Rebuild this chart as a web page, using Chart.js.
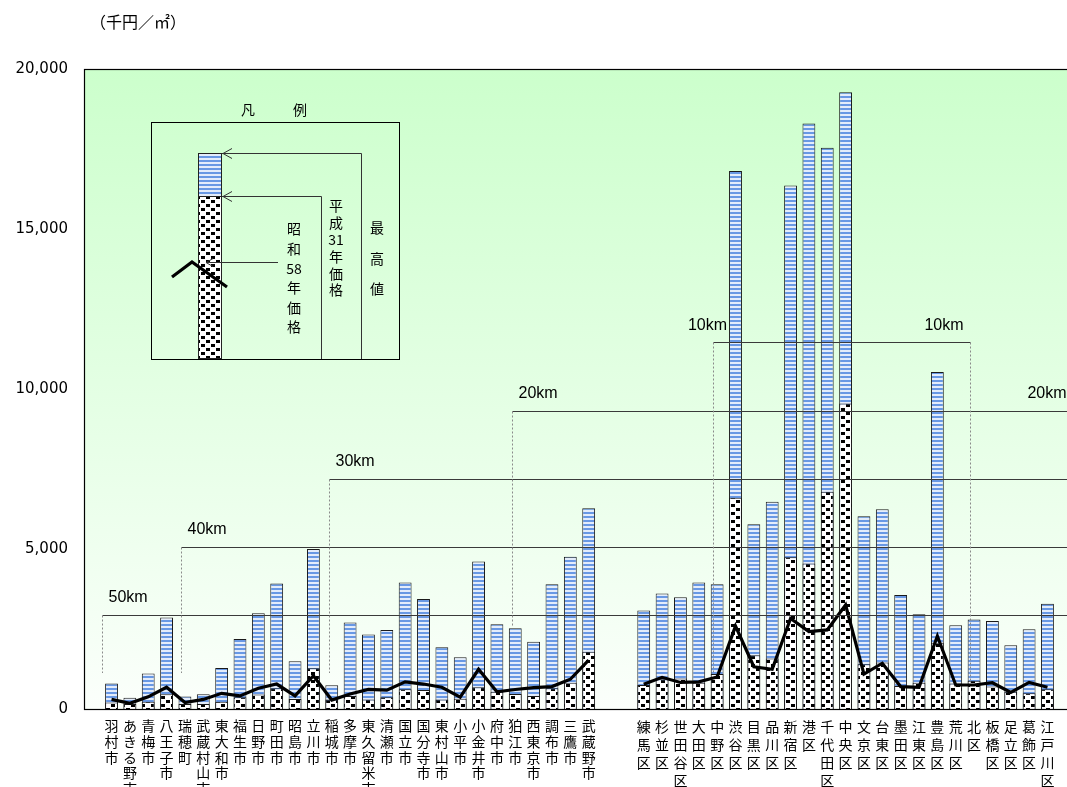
<!DOCTYPE html>
<html><head><meta charset="utf-8">
<script src="https://cdn.jsdelivr.net/npm/chart.js@4/dist/chart.umd.min.js"></script>
<style>html,body{margin:0;padding:0;overflow:hidden;background:#fff;width:1067px;height:787px}canvas{display:block}</style>
</head><body><canvas id="c" width="1075" height="787"></canvas>
<script>
// ---- data ----
const cityNames = ['羽村市','あきる野市','青梅市','八王子市','瑞穂町','武蔵村山市','東大和市','福生市','日野市','町田市','昭島市','立川市','稲城市','多摩市','東久留米市','清瀬市','国立市','国分寺市','東村山市','小平市','小金井市','府中市','狛江市','西東京市','調布市','三鷹市','武蔵野市'];
const cityMax = [800,350,1110,2860,390,460,1280,2190,2990,3920,1490,5000,740,2700,2330,2470,3950,3440,1930,1620,4610,2650,2520,2100,3900,4760,6270];
const cityH31 = [200,160,230,460,160,160,230,370,450,650,310,1270,300,410,300,370,620,590,300,320,680,540,470,410,650,820,1790];
const cityS58 = [300,180,380,680,200,300,490,410,650,780,410,1040,280,470,610,590,850,780,680,370,1240,540,610,670,700,930,1530];
const wardNames = ['練馬区','杉並区','世田谷区','大田区','中野区','渋谷区','目黒区','品川区','新宿区','港区','千代田区','中央区','文京区','台東区','墨田区','江東区','豊島区','荒川区','北区','板橋区','足立区','葛飾区','江戸川区'];
const wardMax = [3080,3610,3490,3950,3900,16810,5770,6480,16360,18300,17540,19270,6020,6240,3560,2960,10530,2620,2800,2750,1990,2490,3290];
const wardH31 = [750,930,950,820,1090,6600,1680,1580,4740,4550,6790,9550,1400,1450,720,820,2070,800,880,700,540,490,620];
const wardS58 = [770,990,830,850,1000,2590,1320,1240,2830,2420,2470,3250,1090,1430,700,680,2280,750,750,820,520,830,680];
const yMin = 0, yMax = 20000, yStep = 5000;
const unitLabel = '（千円／㎡）';
const seriesNames = ['昭和58年価格','平成31年価格','最高値'];
const legendTitle = ['凡','例'];
// distance rings (value level, west/east category index of the corner, foot value of the dotted drop line)
const kmNames = ['50km','40km','30km','20km','10km'];
const kmLevels = [2940,5070,7190,9320,11460];
const kmWestIdx = [0.48,4.8,12.87,22.8,33.8];
const kmWestFoot = [1125,1125,1125,2570,1125];
const kmEastIdx = [null,null,null,53.4,47.77];
const kmEastFoot = [null,null,null,1125,810];

// ---- build category table ----
const labels = ['', ...cityNames, '', '', ...wardNames, ''];
const pad = (a, b) => [null, ...a, null, null, ...b, null];
const maxData = pad(cityMax, wardMax);
const h31Data = pad(cityH31, wardH31);
const s58Data = pad(cityS58, wardS58);
const nCity = cityNames.length + 1;

// ---- patterns ----
function makePattern(w, h, draw) {
  const c = document.createElement('canvas'); c.width = w; c.height = h;
  const x = c.getContext('2d'); draw(x);
  return document.getElementById('c').getContext('2d').createPattern(c, 'repeat');
}
const stripe = makePattern(4, 4, x => { x.fillStyle = '#e3ecfb'; x.fillRect(0,0,4,4); x.fillStyle = '#6898e4'; x.fillRect(0,0,4,2); });
const dots = makePattern(10, 8, x => { x.fillStyle = '#ffffff'; x.fillRect(0,0,10,8); x.fillStyle = '#000'; x.fillRect(1,0,4,3); x.fillRect(6,4,4,3); });

const CJK = '"Noto Sans CJK JP", "Noto Sans CJK SC", sans-serif';

function vText(ctx, parts, x, y0, step) {
  parts.forEach((p, i) => ctx.fillText(p, x, y0 + i * step));
}

const decor = {
  id: 'decor',
  beforeDraw(chart) {
    const { ctx, chartArea: a } = chart;
    ctx.save();
    const g = ctx.createLinearGradient(0, a.top, 0, a.bottom);
    g.addColorStop(0, '#ccffcc'); g.addColorStop(1, '#fbfffb');
    ctx.fillStyle = g;
    ctx.fillRect(a.left, a.top, a.right - a.left, a.bottom - a.top);
    ctx.fillStyle = '#000'; ctx.font = '16px ' + CJK; ctx.textBaseline = 'middle'; ctx.textAlign = 'left';
    ctx.fillText(unitLabel, 90, 22);
    ctx.restore();
  },
  afterDatasetsDraw(chart) {
    const { ctx, chartArea: a, scales: { x, y } } = chart;
    ctx.save();
    // distance rings
    kmNames.forEach((name, i) => {
      const yy = Math.round(y.getPixelForValue(kmLevels[i])) + 0.5;
      const xw = Math.round(x.getPixelForValue(kmWestIdx[i])) + 0.5;
      const xe = kmEastIdx[i] === null ? a.right : Math.round(x.getPixelForValue(kmEastIdx[i])) + 0.5;
      ctx.setLineDash([]); ctx.strokeStyle = '#3a3a3a'; ctx.lineWidth = 1.2;
      ctx.beginPath(); ctx.moveTo(xw, yy); ctx.lineTo(xe, yy); ctx.stroke();
      ctx.setLineDash([2, 2]); ctx.strokeStyle = '#8a8a8a'; ctx.lineWidth = 1;
      ctx.beginPath(); ctx.moveTo(xw, yy); ctx.lineTo(xw, y.getPixelForValue(kmWestFoot[i])); ctx.stroke();
      if (kmEastIdx[i] !== null) {
        ctx.beginPath(); ctx.moveTo(xe, yy); ctx.lineTo(xe, y.getPixelForValue(kmEastFoot[i])); ctx.stroke();
      }
      ctx.setLineDash([]);
      ctx.fillStyle = '#000'; ctx.font = '16px "Liberation Sans", Arial, sans-serif'; ctx.textBaseline = 'alphabetic';
      if (i === kmNames.length - 1) { ctx.textAlign = 'center'; ctx.fillText(name, xw - 6, yy - 13); }
      else { ctx.textAlign = 'left'; ctx.fillText(name, xw + 6, yy - 14); }
      if (kmEastIdx[i] !== null) { ctx.textAlign = 'right'; ctx.fillText(name, xe - 7, yy - (i === kmNames.length - 1 ? 13 : 14)); }
    });
    // legend illustration (凡例)
    ctx.fillStyle = '#000'; ctx.textAlign = 'center'; ctx.textBaseline = 'middle';
    ctx.font = '14px ' + CJK;
    ctx.fillText(legendTitle[0], 248, 110); ctx.fillText(legendTitle[1], 300, 110);
    ctx.strokeStyle = '#000'; ctx.lineWidth = 1;
    ctx.strokeRect(151.5, 122.5, 248, 237);
    ctx.fillStyle = stripe; ctx.fillRect(198, 153, 24, 43);
    ctx.fillStyle = dots; ctx.fillRect(198, 196, 24, 163);
    ctx.strokeStyle = '#222'; ctx.strokeRect(198.5, 153.5, 23, 205);
    ctx.beginPath(); ctx.moveTo(198, 196.5); ctx.lineTo(222, 196.5); ctx.stroke();
    ctx.strokeStyle = '#333';
    ctx.beginPath();
    ctx.moveTo(222, 153.5); ctx.lineTo(361.5, 153.5); ctx.lineTo(361.5, 359);
    ctx.moveTo(222, 196.5); ctx.lineTo(321.5, 196.5); ctx.lineTo(321.5, 359);
    ctx.moveTo(278, 262.5); ctx.lineTo(206, 262.5);
    ctx.moveTo(232, 148.5); ctx.lineTo(223, 153.5); ctx.lineTo(232, 158.5);
    ctx.moveTo(232, 191.5); ctx.lineTo(223, 196.5); ctx.lineTo(232, 201.5);
    ctx.moveTo(213, 258.5); ctx.lineTo(206, 262.5); ctx.lineTo(213, 266.5);
    ctx.stroke();
    ctx.strokeStyle = '#000'; ctx.lineWidth = 3.2; ctx.lineJoin = 'miter';
    ctx.beginPath(); ctx.moveTo(172, 277); ctx.lineTo(192, 262); ctx.lineTo(227, 287); ctx.stroke();
    ctx.fillStyle = '#000'; ctx.font = '14px ' + CJK;
    vText(ctx, ['昭','和','58','年','価','格'], 294, 229, 19.6);
    vText(ctx, ['平','成','31','年','価','格'], 336, 206, 16.8);
    vText(ctx, ['最','高','値'], 377, 228, 30.5);
    ctx.restore();
  },
  afterDraw(chart) {
    const { ctx, chartArea: a } = chart;
    ctx.save(); ctx.strokeStyle = '#000'; ctx.lineWidth = 1.2;
    ctx.strokeRect(a.left + 0.5, a.top + 0.5, a.right - a.left, a.bottom - a.top);
    ctx.restore();
  }
};

new Chart(document.getElementById('c'), {
  data: {
    labels: labels.map(s => Array.from(s)),
    datasets: [
      { type: 'line', label: seriesNames[0], data: s58Data, borderColor: '#000', borderWidth: 3.2, pointRadius: 0, tension: 0, spanGaps: false, order: 0 },
      { type: 'bar', label: seriesNames[1], data: h31Data, backgroundColor: dots, borderColor: '#1a1a1a', borderWidth: 1, barPercentage: 0.7, categoryPercentage: 1, order: 1 },
      { type: 'bar', label: seriesNames[2], data: maxData, backgroundColor: stripe, borderColor: '#1a1a1a', borderWidth: 1, barPercentage: 0.7, categoryPercentage: 1, order: 2 }
    ]
  },
  options: {
    responsive: false, animation: false,
    layout: { padding: { top: 69, left: 0, right: 0, bottom: 0 } },
    plugins: { legend: { display: false }, tooltip: { enabled: false } },
    scales: {
      x: {
        stacked: true,
        grid: { display: false, drawTicks: false }, border: { display: false },
        ticks: {
          autoSkip: false, maxRotation: 0, minRotation: 0, padding: 9, color: '#000',
          font: (c) => ({ family: '"Noto Sans CJK JP"', size: 14, lineHeight: (c.index < nCity ? 15.7 : 18) + 'px' })
        },
        afterFit: (s) => { s.height = 78; }
      },
      y: {
        stacked: false, min: yMin, max: yMax,
        grid: { display: false, drawTicks: false }, border: { display: false },
        ticks: {
          stepSize: yStep, padding: 16, color: '#000',
          font: { family: '"DejaVu Sans"', size: 15 },
          callback: (v) => v.toLocaleString('en-US')
        },
        afterFit: (s) => { s.width = 84; }
      }
    }
  },
  plugins: [decor]
});
</script>
</body></html>
